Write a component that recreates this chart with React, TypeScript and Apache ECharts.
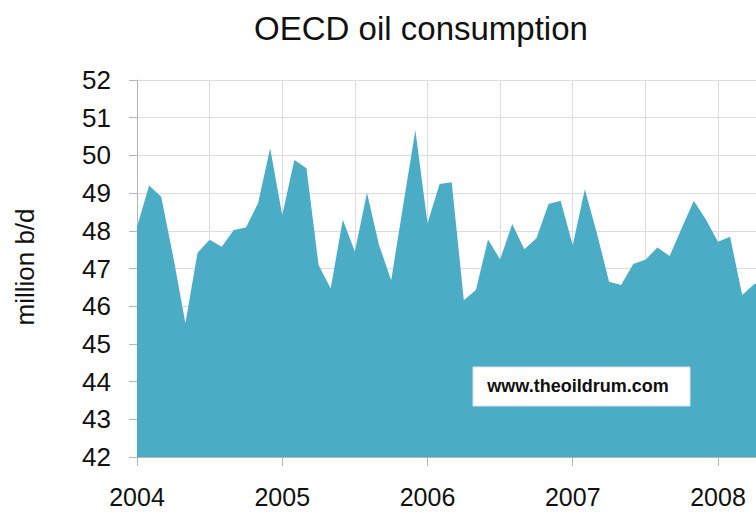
import React, { useEffect, useRef } from "react";
import * as echarts from "echarts";

// Monthly OECD oil consumption (million b/d), starting January 2004
const startYear = 2004;
const consumption: number[] = [
  48.1, 49.2, 48.9, 47.3, 45.55, 47.42, 47.76, 47.58, 48.02, 48.09, 48.73, 50.19,
  48.42, 49.88, 49.66, 47.09, 46.47, 48.29, 47.45, 49.01, 47.62, 46.69, 48.7, 50.67,
  48.2, 49.24, 49.29, 46.16, 46.43, 47.77, 47.24, 48.18, 47.51, 47.8, 48.71, 48.8,
  47.62, 49.1, 47.93, 46.65, 46.56, 47.12, 47.23, 47.56, 47.33, 48.07, 48.8, 48.3,
  47.71, 47.84, 46.3, 46.59, 46.65,
];
const yMin = 42;
const yMax = 52;
const visibleMonths = 51.14; // axis span visible in the picture
const title = "OECD oil consumption";
const yAxisTitle = "million b/d";
const watermark = "www.theoildrum.com";

const FONT = "'Liberation Sans', Arial, sans-serif";
const GRID_COLOR = "#dcdcdc";
const AXIS_COLOR = "#b5b5b5";

export default function App() {
  const ref = useRef<HTMLDivElement>(null);
  useEffect(() => {
    document.body.style.margin = "0";
    if (!ref.current) return;
    const chart = echarts.init(ref.current, undefined, { renderer: "svg" });
    const seriesData = consumption.map((v, i) => [i, v]);
    chart.setOption({
      animation: false,
      backgroundColor: "#ffffff",
      grid: { left: 137, top: 80, bottom: 56, right: 0, containLabel: false },
      xAxis: [
        {
          type: "value",
          min: 0,
          max: visibleMonths,
          interval: 12,
          axisLine: { show: true, lineStyle: { color: AXIS_COLOR, width: 1 } },
          axisTick: { show: true, length: 9, lineStyle: { color: AXIS_COLOR } },
          axisLabel: {
            margin: 27,
            fontSize: 25,
            fontFamily: FONT,
            color: "#111",
            showMaxLabel: false,
            formatter: (v: number) => (v % 12 === 0 ? String(startYear + v / 12) : ""),
          },
          splitLine: { show: false },
        },
        {
          type: "value",
          position: "bottom",
          min: 0,
          max: visibleMonths,
          interval: 6,
          axisLine: { show: false },
          axisTick: { show: false },
          axisLabel: { show: false },
          splitLine: { show: true, lineStyle: { color: GRID_COLOR, width: 1 } },
        },
      ],
      yAxis: {
        type: "value",
        min: yMin,
        max: yMax,
        interval: 1,
        axisLine: { show: true, lineStyle: { color: AXIS_COLOR, width: 1 } },
        axisTick: { show: true, inside: false, length: 8, lineStyle: { color: AXIS_COLOR } },
        axisLabel: { margin: 26, fontSize: 26, fontFamily: FONT, color: "#111" },
        splitLine: { show: true, lineStyle: { color: GRID_COLOR, width: 1 } },
      },
      series: [
        {
          type: "line",
          xAxisIndex: 0,
          data: seriesData,
          symbol: "none",
          clip: true,
          lineStyle: { width: 0, color: "#4BACC6" },
          areaStyle: { color: "#4BACC6", opacity: 1, origin: "start" },
          z: 3,
        },
      ],
      graphic: [
        {
          type: "text",
          x: 421,
          y: 28,
          style: {
            text: title,
            fontSize: 33,
            fontFamily: FONT,
            fill: "#111",
            textAlign: "center",
            textVerticalAlign: "middle",
          },
        },
        {
          type: "text",
          x: 25,
          y: 267,
          rotation: Math.PI / 2,
          style: {
            text: yAxisTitle,
            fontSize: 26,
            fontFamily: FONT,
            fill: "#111",
            textAlign: "center",
            textVerticalAlign: "middle",
          },
        },
        {
          type: "rect",
          shape: { x: 473, y: 367, width: 217, height: 39 },
          style: { fill: "#ffffff", stroke: "#e0e0e0", lineWidth: 1 },
          z: 100,
        },
        {
          type: "text",
          x: 578,
          y: 386,
          z: 101,
          style: {
            text: watermark,
            fontSize: 18,
            fontWeight: "bold",
            fontFamily: FONT,
            fill: "#111",
            textAlign: "center",
            textVerticalAlign: "middle",
          },
        },
      ],
    });
    return () => chart.dispose();
  }, []);
  return <div ref={ref} style={{ width: 756, height: 513 }} />;
}
